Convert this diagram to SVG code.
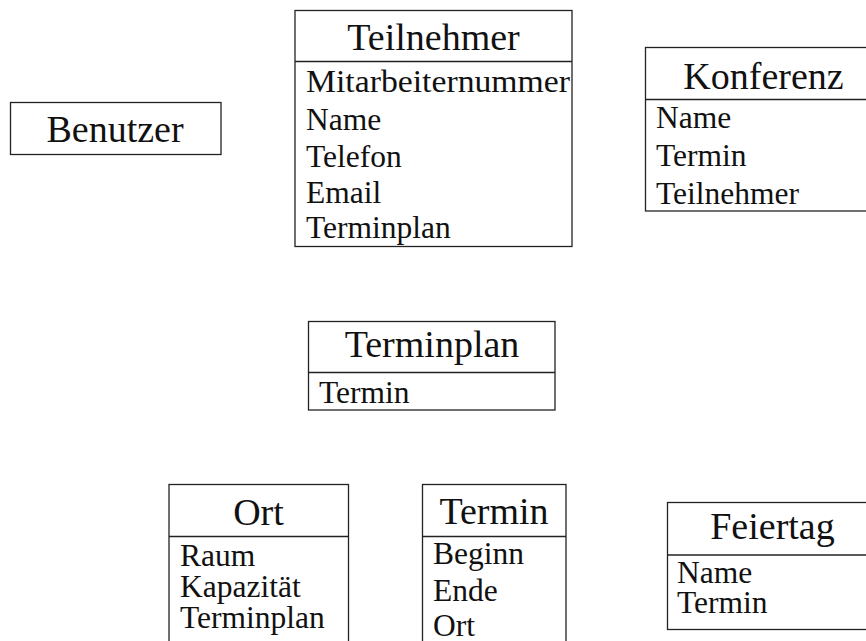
<svg xmlns="http://www.w3.org/2000/svg" width="866" height="641" viewBox="0 0 866 641">
<style>
rect, line { fill: none; stroke: #222; stroke-width: 1.3; }
.bg { fill: #fff; stroke: none; }
text { font-family: "Liberation Serif", "DejaVu Serif", serif; fill: #111; }
.t { font-size: 38px; text-anchor: middle; }
.a { font-size: 31.5px; }
</style>
<rect class="bg" x="0" y="0" width="866" height="641"/>
<g id="connectors"></g>
<g id="benutzer">
  <rect x="10.5" y="102.5" width="210.5" height="52"/>
  <text class="t" x="115" y="141.5">Benutzer</text>
</g>
<g id="teilnehmer">
  <rect x="295" y="10.5" width="277" height="236"/>
  <line x1="295" y1="61.5" x2="572" y2="61.5"/>
  <text class="t" x="433.5" y="49.5">Teilnehmer</text>
  <text class="a" x="306" y="92" textLength="264" lengthAdjust="spacingAndGlyphs">Mitarbeiternummer</text>
  <text class="a" x="306" y="129.5">Name</text>
  <text class="a" x="306" y="166.5">Telefon</text>
  <text class="a" x="306" y="202.5">Email</text>
  <text class="a" x="306" y="238">Terminplan</text>
</g>
<g id="konferenz">
  <rect x="645.5" y="47.5" width="236" height="163.5"/>
  <line x1="645.5" y1="99.5" x2="881.5" y2="99.5"/>
  <text class="t" x="763.5" y="88.5">Konferenz</text>
  <text class="a" x="656" y="127.5">Name</text>
  <text class="a" x="656" y="166">Termin</text>
  <text class="a" x="656" y="203.5">Teilnehmer</text>
</g>
<g id="terminplan">
  <rect x="308.5" y="321.5" width="246.5" height="88.5"/>
  <line x1="308.5" y1="372.5" x2="555" y2="372.5"/>
  <text class="t" x="432" y="357">Terminplan</text>
  <text class="a" x="319" y="402.5">Termin</text>
</g>
<g id="ort">
  <rect x="169" y="484.5" width="179.5" height="170"/>
  <line x1="169" y1="536.5" x2="348.5" y2="536.5"/>
  <text class="t" x="258.5" y="525">Ort</text>
  <text class="a" x="180" y="566">Raum</text>
  <text class="a" x="180" y="597">Kapazität</text>
  <text class="a" x="180" y="627.5">Terminplan</text>
</g>
<g id="termin">
  <rect x="422.5" y="484.5" width="143.5" height="170"/>
  <line x1="422.5" y1="536.5" x2="566" y2="536.5"/>
  <text class="t" x="494" y="524">Termin</text>
  <text class="a" x="433" y="563.5">Beginn</text>
  <text class="a" x="433" y="600.5">Ende</text>
  <text class="a" x="433" y="636">Ort</text>
</g>
<g id="feiertag">
  <rect x="667.5" y="502.5" width="210" height="127"/>
  <line x1="667.5" y1="555" x2="877.5" y2="555"/>
  <text class="t" x="772.5" y="538.5">Feiertag</text>
  <text class="a" x="677" y="582.5">Name</text>
  <text class="a" x="677" y="613">Termin</text>
</g>
</svg>
